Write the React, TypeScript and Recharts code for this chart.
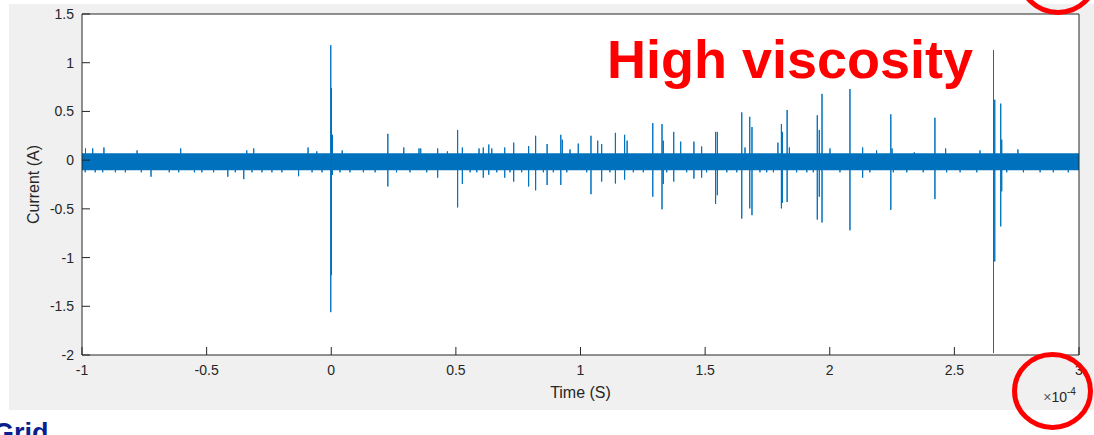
import React from 'react';
import { ComposedChart, Area, Line, XAxis, YAxis, CartesianGrid } from 'recharts';

// axis ticks (time in units of 1e-4 s)
const xTicks = [-1, -0.5, 0, 0.5, 1, 1.5, 2, 2.5, 3];
const yTicks = [-2, -1.5, -1, -0.5, 0, 0.5, 1, 1.5];

// dense noise band envelope
const bandX = [-1, -0.5, 0, 0.5, 1, 1.5, 2, 2.5, 3];
const bandHi = [0.07, 0.07, 0.07, 0.07, 0.07, 0.07, 0.07, 0.07, 0.07];
const bandLo = [-0.103, -0.103, -0.103, -0.103, -0.103, -0.103, -0.103, -0.103, -0.103];

// current spikes
const spikeX = [-0.986, -0.957, -0.912, -0.779, -0.604, -0.339, -0.311, -0.093, -0.058, -0.002, 0.001, 0.005, 0.044, 0.227, 0.291, 0.352, 0.359, 0.427, 0.466, 0.507, 0.526, 0.593, 0.61, 0.632, 0.644, 0.696, 0.732, 0.792, 0.82, 0.866, 0.921, 0.927, 0.958, 0.991, 1.042, 1.069, 1.085, 1.14, 1.177, 1.187, 1.29, 1.327, 1.332, 1.374, 1.402, 1.455, 1.486, 1.542, 1.549, 1.647, 1.66, 1.679, 1.688, 1.792, 1.806, 1.81, 1.829, 1.838, 1.95, 1.958, 1.969, 2.001, 2.081, 2.132, 2.188, 2.245, 2.25, 2.339, 2.422, 2.465, 2.603, 2.657, 2.662, 2.686, 2.69, 2.755];
const spikeHi = [0.12, 0.12, 0.13, 0.1, 0.12, 0.1, 0.12, 0.13, 0.09, 1.18, 0.74, 0.26, 0.1, 0.27, 0.13, 0.12, 0.12, 0.12, 0.09, 0.31, 0.13, 0.12, 0.13, 0.16, 0.12, 0.13, 0.18, 0.145, 0.25, 0.165, 0.26, 0.21, 0.11, 0.17, 0.25, 0.2, 0.165, 0.28, 0.26, 0.2, 0.38, 0.37, 0.2, 0.29, 0.19, 0.19, 0.14, 0.29, 0.29, 0.49, 0.13, 0.445, 0.34, 0.18, 0.37, 0.29, 0.515, 0.13, 0.46, 0.31, 0.68, 0.12, 0.73, 0.13, 0.1, 0.47, 0.12, 0.08, 0.435, 0.12, 0.1, 1.13, 0.62, 0.58, 0.21, 0.11];
const spikeLo = [0, 0, 0, 0, 0, 0, 0, 0, 0, -1.56, -1.18, -0.15, 0, -0.27, 0, 0, 0, -0.18, 0, -0.485, -0.245, 0, -0.18, -0.15, 0, -0.18, -0.22, -0.27, -0.31, -0.255, -0.255, 0, 0, 0, -0.35, 0, -0.22, -0.24, -0.2, 0, -0.375, -0.505, -0.245, -0.22, 0, -0.19, -0.18, -0.45, -0.36, -0.6, 0, -0.495, -0.565, 0, -0.495, -0.44, -0.43, 0, -0.61, -0.375, -0.64, 0, -0.72, -0.18, 0, -0.51, 0, 0, -0.4, 0, 0, -1.98, -1.04, -0.68, -0.32, 0];

// small dips under the noise band
const dipX = [-0.987, -0.947, -0.917, -0.866, -0.826, -0.762, -0.723, -0.65, -0.612, -0.549, -0.519, -0.472, -0.415, -0.385, -0.351, -0.318, -0.278, -0.238, -0.198, -0.131, -0.077, -0.037, 0.035, 0.075, 0.129, 0.176, 0.262, 0.316, 0.383, 0.557, 0.584, 0.664, 0.717, 0.764, 0.851, 0.891, 0.945, 1.025, 1.118, 1.212, 1.252, 1.346, 1.426, 1.506, 1.587, 1.627, 1.72, 1.747, 1.774, 1.867, 1.908, 1.934, 2.041, 2.161, 2.255, 2.309, 2.375, 2.469, 2.523, 2.59, 2.71, 2.777, 2.844, 2.897, 2.957];
const dipY = [-0.125, -0.125, -0.125, -0.125, -0.125, -0.125, -0.17, -0.125, -0.125, -0.125, -0.125, -0.125, -0.17, -0.125, -0.195, -0.125, -0.125, -0.125, -0.125, -0.165, -0.125, -0.125, -0.125, -0.125, -0.125, -0.125, -0.125, -0.125, -0.125, -0.125, -0.125, -0.125, -0.125, -0.125, -0.125, -0.125, -0.125, -0.125, -0.125, -0.125, -0.125, -0.125, -0.125, -0.125, -0.125, -0.125, -0.125, -0.125, -0.125, -0.125, -0.125, -0.125, -0.125, -0.125, -0.125, -0.125, -0.125, -0.125, -0.125, -0.125, -0.125, -0.125, -0.125, -0.125, -0.125];

const bandData = bandX.map((x, i) => ({ x, range: [bandLo[i], bandHi[i]] }));
const events = [
  ...spikeX.map((x, i) => ({ x, hi: spikeHi[i], lo: spikeLo[i] })),
  ...dipX.map((x, i) => ({ x, hi: 0, lo: dipY[i] })),
].sort((a, b) => a.x - b.x);
const traceData = [
  { x: -1, y: 0 },
  ...events.flatMap((e) => [
    { x: e.x, y: 0 },
    { x: e.x, y: e.hi },
    { x: e.x, y: e.lo },
    { x: e.x, y: 0 },
  ]),
  { x: 3, y: 0 },
];

const FONT = '"Liberation Sans", Arial, Helvetica, sans-serif';
const AX = '#262626';
const BLUE = '#0072BD';
const tickStyle = { fontSize: 14, fill: AX, fontFamily: FONT };

export default function App() {
  return (
    <div style={{ position: 'absolute', left: 0, top: 0, width: 1094, height: 435, overflow: 'hidden', background: '#ffffff' }}>
      <div style={{ position: 'absolute', left: 9, top: 4, width: 1085, height: 406, background: '#f0f0f0' }} />
      <div style={{ position: 'absolute', left: 0, top: 0 }}>
        <ComposedChart width={1094} height={435} margin={{ top: 0, right: 0, bottom: 50, left: 0 }}>
          <CartesianGrid fill="#ffffff" stroke="none" />
          <XAxis
            dataKey="x"
            type="number"
            domain={[-1, 3]}
            ticks={xTicks}
            allowDataOverflow
            height={30}
            stroke={AX}
            tickSize={-8}
            tickMargin={18}
            tick={tickStyle}
            axisLine={{ stroke: AX }}
            tickLine={{ stroke: AX }}
          />
          <XAxis
            xAxisId="top"
            orientation="top"
            dataKey="x"
            type="number"
            domain={[-1, 3]}
            ticks={xTicks}
            allowDataOverflow
            height={14}
            tickSize={-8}
            tick={false}
            axisLine={{ stroke: AX }}
            tickLine={{ stroke: AX }}
          />
          <YAxis
            type="number"
            domain={[-2, 1.5]}
            ticks={yTicks}
            allowDataOverflow
            width={82}
            tickSize={-8}
            tickMargin={16}
            tick={tickStyle}
            axisLine={{ stroke: AX }}
            tickLine={{ stroke: AX }}
          />
          <YAxis
            yAxisId="right"
            orientation="right"
            type="number"
            domain={[-2, 1.5]}
            ticks={yTicks}
            allowDataOverflow
            width={15}
            tickSize={-8}
            tick={false}
            axisLine={{ stroke: AX }}
            tickLine={{ stroke: AX }}
          />
          <Area
            data={bandData}
            dataKey="range"
            type="linear"
            stroke="none"
            fill={BLUE}
            fillOpacity={1}
            isAnimationActive={false}
          />
          <Line
            data={traceData}
            dataKey="y"
            type="linear"
            stroke={BLUE}
            strokeWidth={1}
            dot={false}
            isAnimationActive={false}
          />
        </ComposedChart>
      </div>
      <svg width={1094} height={435} style={{ position: 'absolute', left: 0, top: 0, pointerEvents: 'none' }}>
        <text x={39} y={184.5} transform="rotate(-90 39 184.5)" textAnchor="middle" fontSize={16} fill={AX} fontFamily={FONT}>
          Current (A)
        </text>
        <text x={580.5} y={398} textAnchor="middle" fontSize={16} fill={AX} fontFamily={FONT}>
          Time (S)
        </text>
        <text x={1067} y={401.5} textAnchor="end" fontSize={14} fill={AX} fontFamily={FONT}>
          <tspan fill="#595959">×</tspan>10
        </text>
        <text x={1067} y={395} fontSize={10} fill={AX} fontFamily={FONT}>-4</text>
        <text x={607} y={77.5} fontSize={54} fontWeight="bold" fill="#ff0000" fontFamily={FONT}>
          High viscosity
        </text>
        <ellipse cx={1052.5} cy={391} rx={38} ry={36.5} fill="none" stroke="#ff0000" strokeWidth={5} />
        <ellipse cx={1058} cy={-24} rx={38} ry={36.5} fill="none" stroke="#ff0000" strokeWidth={5} />
        <text x={-7} y={442} fontSize={27} fontWeight="bold" fill="#0a1f8f" fontFamily={FONT}>
          Grid
        </text>
      </svg>
    </div>
  );
}
